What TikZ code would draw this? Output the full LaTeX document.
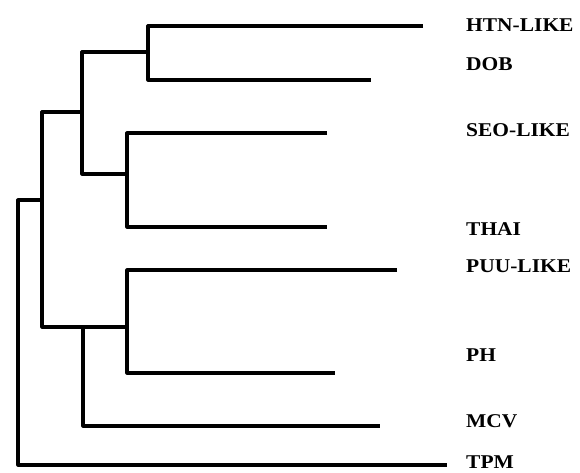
\documentclass[tikz,border=0pt]{standalone}
\usepackage{fontspec}
\setmainfont{Liberation Serif}
\begin{document}
\begin{tikzpicture}[x=1pt,y=-1pt,
  branch/.style={line width=3.2pt, line join=round, black},
  lbl/.style={anchor=west, inner sep=0pt, font=\fontsize{19.5}{21}\selectfont\bfseries, xscale=1.1}]
\useasboundingbox (0,0) rectangle (580,472);
% leaf ends
\coordinate (htn) at (423,26);
\coordinate (dob) at (371,80);
\coordinate (seo) at (327,133);
\coordinate (thai) at (327,227);
\coordinate (puu) at (397,270);
\coordinate (ph) at (335,373);
\coordinate (mcv) at (380,426);
\coordinate (tpm) at (447,465);
% internal nodes
\coordinate (nC) at (148,52);
\coordinate (nB) at (82,112);
\coordinate (nD) at (127,174);
\coordinate (nA) at (42,200);
\coordinate (nE) at (127,327);
\coordinate (nF) at (83,327);
\coordinate (root) at (18,330);
% branches
\draw[branch] (htn) -| (nC) |- (dob);
\draw[branch] (nC) -| (nB) |- (nD);
\draw[branch] (seo) -| (nD) |- (thai);
\draw[branch] (nB) -| (nA) |- (nE);
\draw[branch] (puu) -| (nE) |- (ph);
\draw[branch] (nF) |- (mcv);
\draw[branch] (nA) -| (root) |- (tpm);
% labels
\node[lbl] (lhtn) at (466,25) {HTN-LIKE};
\node[lbl] (ldob) at (466,64) {DOB};
\node[lbl] (lseo) at (466,130) {SEO-LIKE};
\node[lbl] (lthai) at (466,229) {THAI};
\node[lbl] (lpuu) at (466,266) {PUU-LIKE};
\node[lbl] (lph) at (466,355) {PH};
\node[lbl] (lmcv) at (466,421) {MCV};
\node[lbl] (ltpm) at (466,462) {TPM};
\end{tikzpicture}
\end{document}
